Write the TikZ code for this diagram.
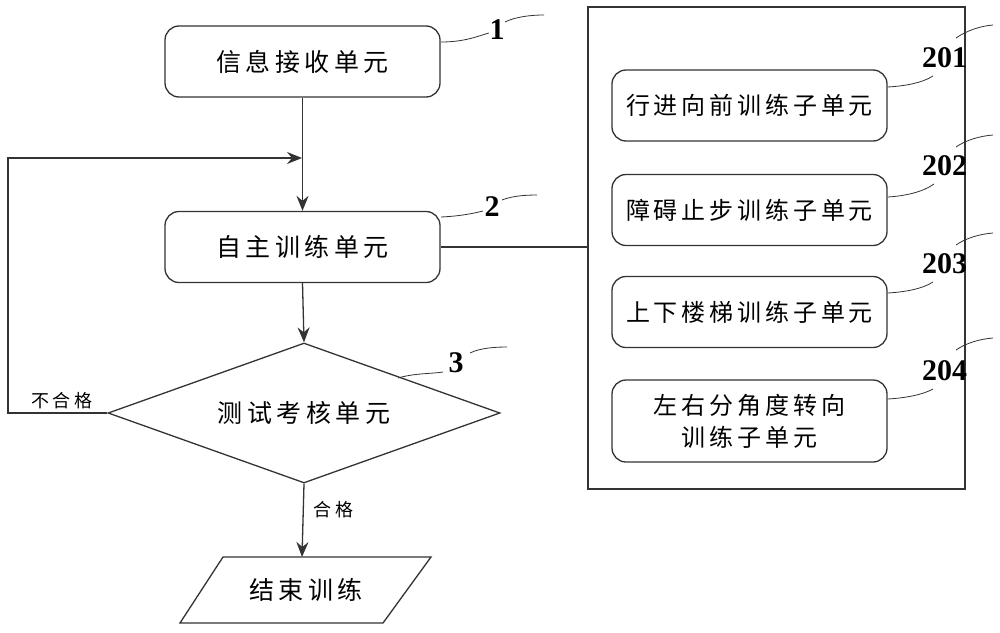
\documentclass[tikz,border=0pt]{standalone}
\usepackage{fontspec}
\newfontfamily\cjkbig{Noto Sans CJK SC}[LetterSpace=18]
\newfontfamily\cjksub{Noto Sans CJK SC}[LetterSpace=16]
\newfontfamily\cjksmall{Noto Sans CJK SC}[LetterSpace=20]
\newfontfamily\numfont{Liberation Serif}
\usetikzlibrary{shapes.geometric,arrows.meta}
\begin{document}
\begin{tikzpicture}[x=1pt,y=-1pt,
  line width=1.3pt, draw=black!80,
  bigtext/.style={font=\cjkbig\fontsize{25}{30}\selectfont},
  box/.style={draw=black!80, rounded corners=14pt, minimum width=275pt, minimum height=71pt, inner sep=0pt, bigtext},
  subbox/.style={draw=black!80, rounded corners=14pt, minimum width=275pt, minimum height=71pt, inner sep=0pt, align=center, font=\cjksub\fontsize{24}{32}\selectfont},
  arr/.style={-{Stealth[length=15pt,width=12pt,inset=5pt]}},
  lead/.style={line width=0.8pt, draw=black!80},
  num/.style={font=\numfont\bfseries\fontsize{30}{30}\selectfont, inner sep=0pt},
  lbl/.style={font=\cjksmall\fontsize{18}{20}\selectfont, inner sep=0pt}
]
\useasboundingbox (0,0) rectangle (1000,632);

\node[box] (b1) at (302.5,61.5) {信息接收单元};
\node[box] (b2) at (302.5,247) {自主训练单元};
\node[draw=black!80, diamond, aspect=2.8, minimum width=392pt, minimum height=140pt, inner sep=0pt, bigtext] (dia) at (304,413) {测试考核单元};

% parallelogram
\coordinate (p1) at (223,557);
\coordinate (p2) at (431,557);
\coordinate (p3) at (383,623);
\coordinate (p4) at (180,623);
\coordinate (ptop) at (302,557);
\draw (p1) -- (p2) -- (p3) -- (p4) -- cycle;
\node[bigtext] (end) at (306,590) {结束训练};

% group box
\node[draw=black!80, minimum width=377pt, minimum height=482pt, inner sep=0pt] (grp) at (776.5,248) {};
\node[subbox] (s1) at (749.5,105.5) {行进向前训练子单元};
\node[subbox] (s2) at (749.5,210) {障碍止步训练子单元};
\node[subbox] (s3) at (749.5,312) {上下楼梯训练子单元};
\node[subbox, minimum height=82pt] (s4) at (749.5,421) {左右分角度转向\\训练子单元};

% connectors
\coordinate (fb) at (302,158);
\coordinate (fl) at (8,413);
\coordinate (ft) at (8,158);
\draw[arr] (b1.south) -- (b2.north);
\draw[arr] (dia.west) -- (fl) -- (ft) -- (fb);
\draw[arr] (b2.south) -- (dia.north);
\draw[arr] (dia.south) -- (ptop);
\draw (b2.east) -- (grp.west |- b2.east);

\node[lbl, anchor=south] (ng) at (62,410) {不合格};
\node[lbl, anchor=west] (ok) at (313,510) {合格};

% numbers and leaders
\node[num] (n1) at (497,30) {1};
\draw[lead] (441,42) .. controls (465,42) and (478,36) .. (489,33);
\draw[lead] (505,22) .. controls (515,17) and (530,15) .. (544,15);

\node[num] (n2) at (492,207) {2};
\draw[lead] (441,217) .. controls (462,216) and (475,213) .. (483,211);
\draw[lead] (502,200) .. controls (512,196) and (525,195) .. (537,195);

\node[num] (n3) at (456,363) {3};
\draw[lead] (398,378) .. controls (415,373) and (430,374) .. (443,372);
\draw[lead] (470,353) .. controls (480,348) and (495,347) .. (507,347);

\node[num] (n201) at (944.5,58) {201};
\draw[lead] (s1.east |- 0,87) .. controls (905,86) and (922,83) .. (933,76);
\draw[lead] (956,38) .. controls (966,31) and (980,26) .. (993,25);

\node[num] (n202) at (944.5,166) {202};
\draw[lead] (s2.east |- 0,197) .. controls (905,196) and (923,192) .. (934,184);
\draw[lead] (956,147) .. controls (966,140) and (980,136) .. (993,135);

\node[num] (n203) at (944.5,264) {203};
\draw[lead] (s3.east |- 0,293) .. controls (905,292) and (922,289) .. (933,282);
\draw[lead] (956,245) .. controls (966,238) and (980,234) .. (993,233);

\node[num] (n204) at (944.5,371) {204};
\draw[lead] (s4.east |- 0,399) .. controls (905,398) and (922,395) .. (933,389);
\draw[lead] (956,350) .. controls (966,343) and (980,339) .. (993,338);
\end{tikzpicture}
\end{document}
